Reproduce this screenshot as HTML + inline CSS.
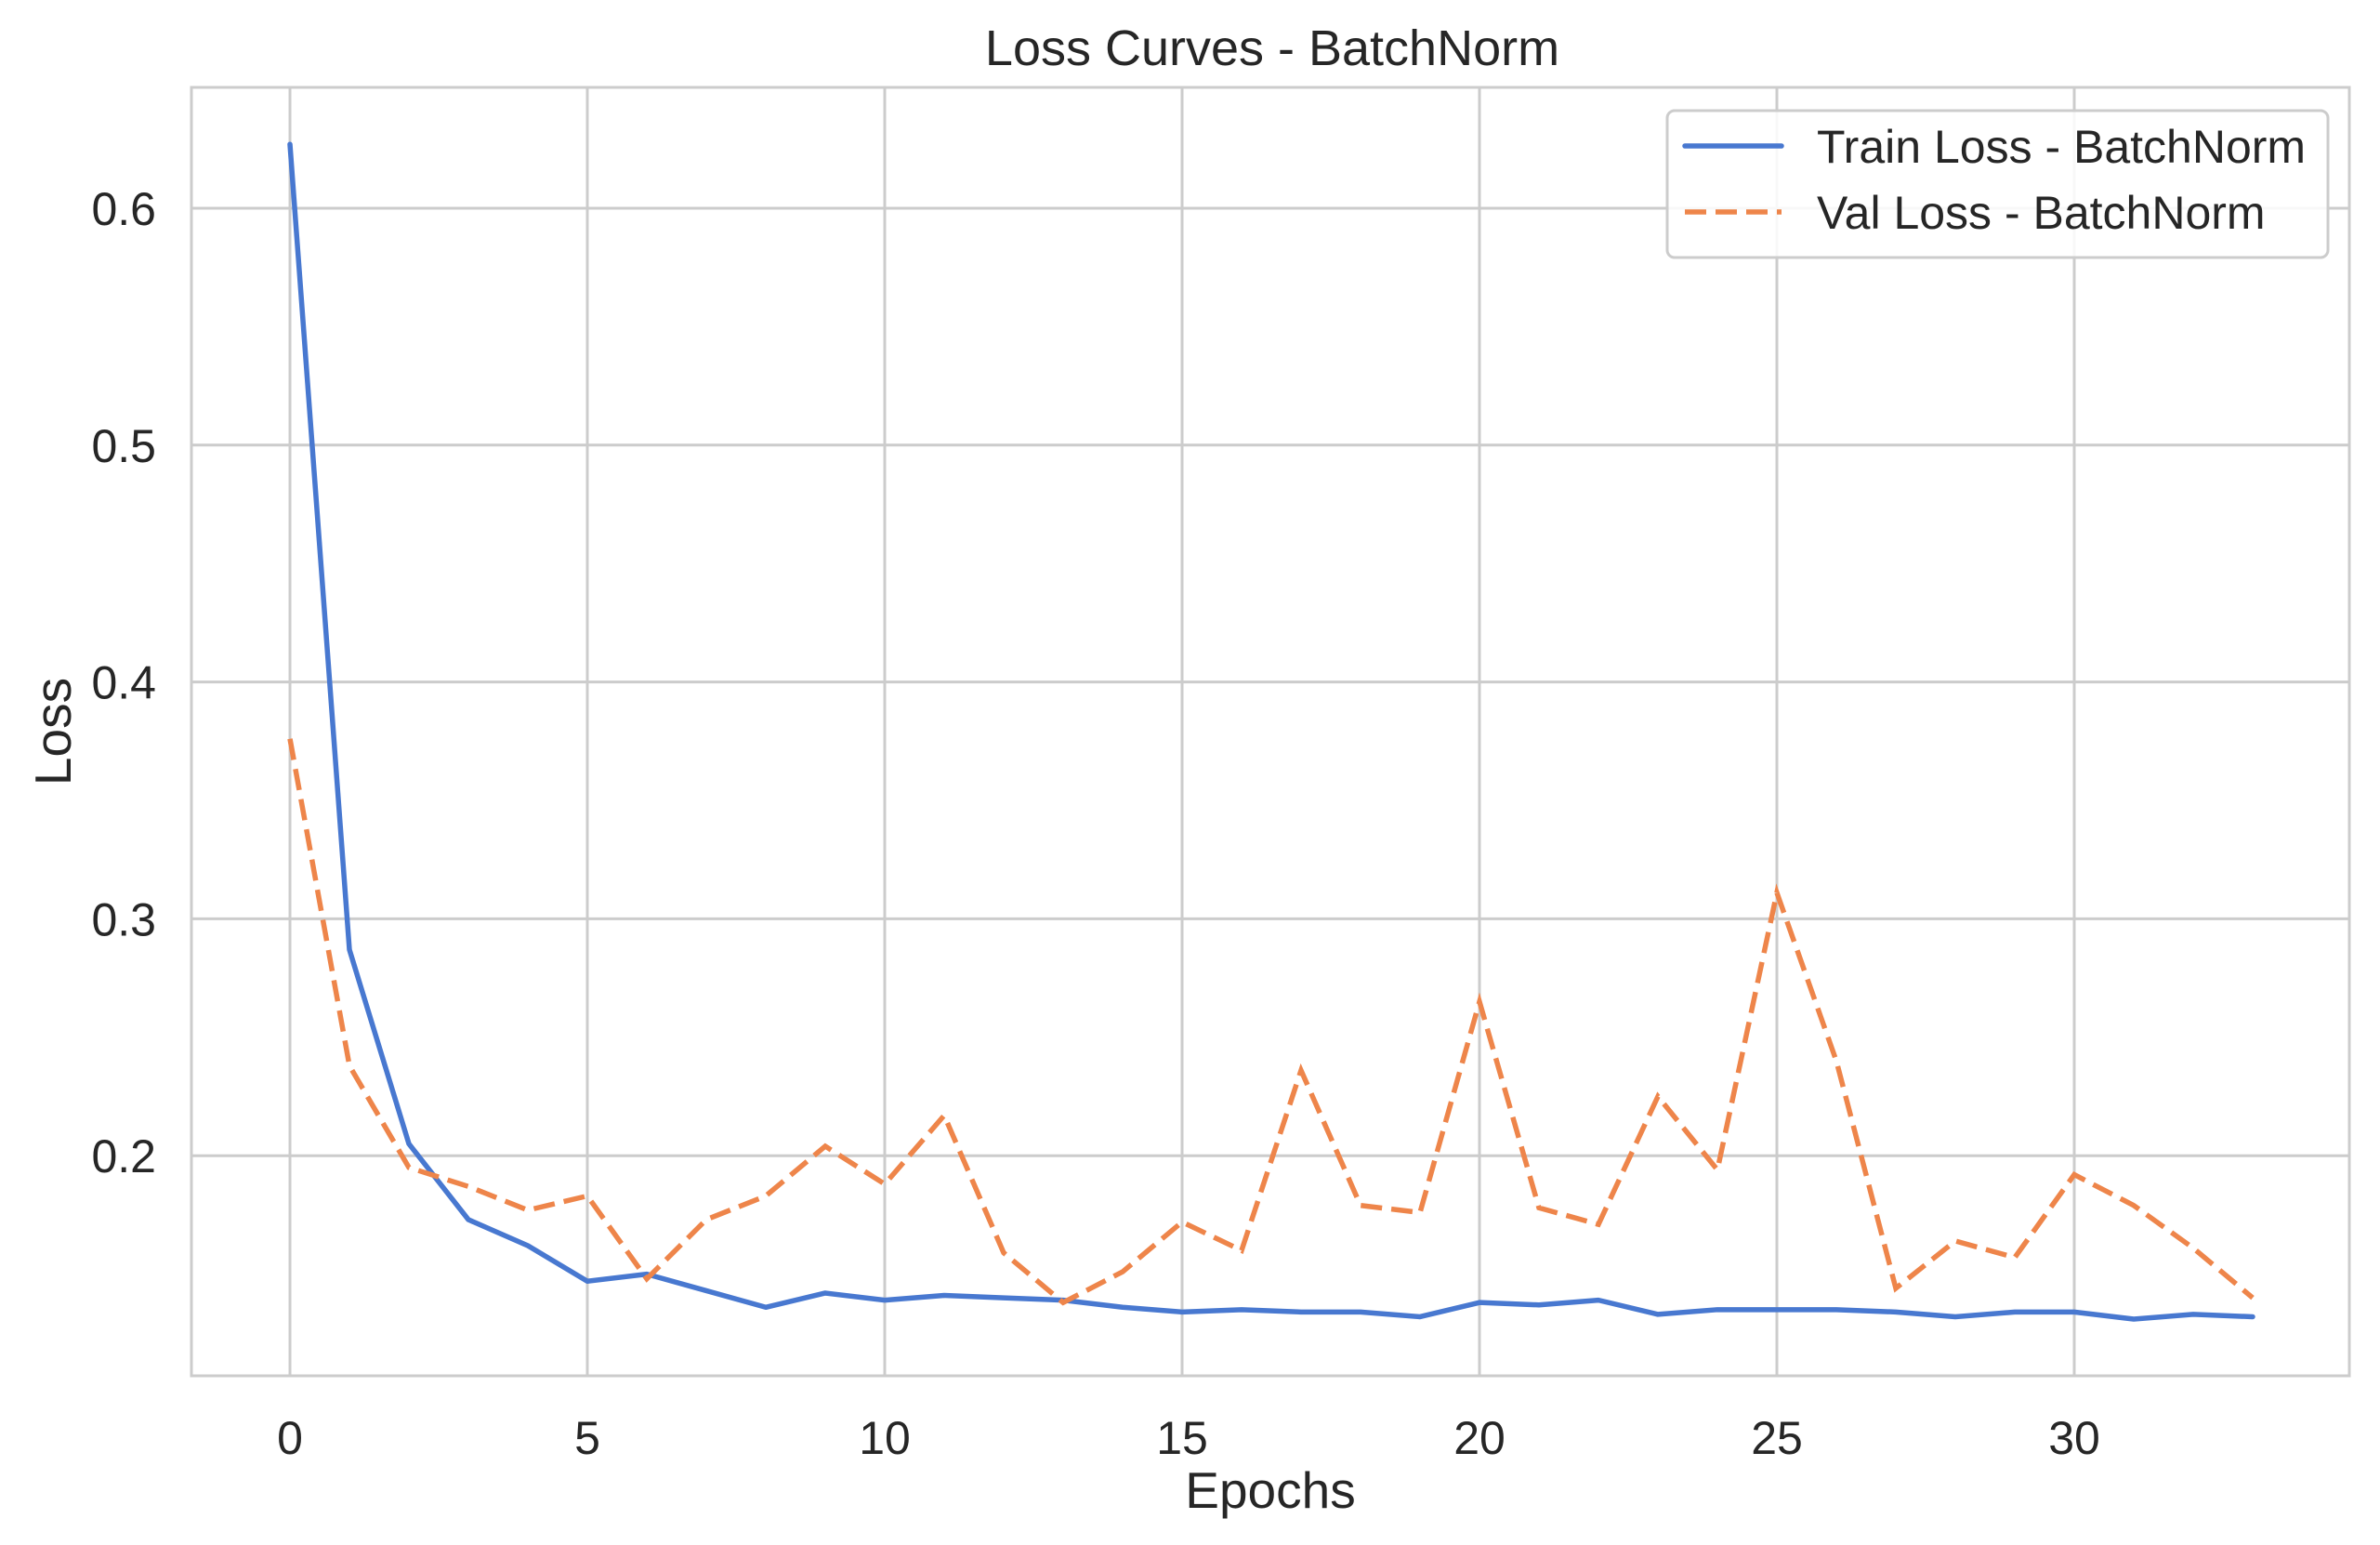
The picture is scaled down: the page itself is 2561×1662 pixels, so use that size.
<!DOCTYPE html>
<html><head><meta charset="utf-8"><style>
html,body{margin:0;padding:0;background:#fff;}
svg{display:block;font-family:"Liberation Sans",Arial,sans-serif;}
</style></head><body>
<svg id="chart" width="2561" height="1662" viewBox="0 0 2561 1662">
<g id="grid"></g>
<g id="ticks"></g>
<g id="series"></g>
<rect x="206" y="94" width="2322" height="1386" fill="none" stroke="#cccccc" stroke-width="3"/>
<text x="1369" y="70" font-size="54" fill="#262626" text-anchor="middle">Loss Curves - BatchNorm</text>
<text x="1367" y="1622" font-size="55" fill="#262626" text-anchor="middle">Epochs</text>
<text x="0" y="0" font-size="55" fill="#262626" text-anchor="middle" transform="translate(76,787) rotate(-90)">Loss</text>
<g>
<rect x="1794" y="119" width="711" height="158" rx="8" fill="#ffffff" fill-opacity="0.85" stroke="#cccccc" stroke-width="3"/>
<line x1="1813" y1="157" x2="1917" y2="157" stroke="#4878d0" stroke-width="5.5" stroke-linecap="round"/>
<text x="1955" y="175" font-size="50" fill="#262626">Train Loss - BatchNorm</text>
<line x1="1813" y1="228" x2="1917" y2="228" stroke="#ee854a" stroke-width="5.5" stroke-dasharray="23,10"/>
<text x="1955" y="246" font-size="50" fill="#262626">Val Loss - BatchNorm</text>
</g>
</svg>
<script>
const epochs = [0,1,2,3,4,5,6,7,8,9,10,11,12,13,14,15,16,17,18,19,20,21,22,23,24,25,26,27,28,29,30,31,32,33];
const trainLoss = [0.627,0.287,0.205,0.173,0.162,0.147,0.150,0.143,0.136,0.142,0.139,0.141,0.140,0.139,0.136,0.134,0.135,0.134,0.134,0.132,0.138,0.137,0.139,0.133,0.135,0.135,0.135,0.134,0.132,0.134,0.134,0.131,0.133,0.132];
const valLoss = [0.376,0.238,0.195,0.187,0.177,0.183,0.148,0.173,0.183,0.204,0.188,0.217,0.159,0.138,0.151,0.172,0.160,0.236,0.179,0.176,0.265,0.178,0.171,0.225,0.194,0.311,0.240,0.144,0.164,0.157,0.192,0.179,0.161,0.140];
const xTicks = [0,5,10,15,20,25,30];
const yTicks = [0.2,0.3,0.4,0.5,0.6];
const yTickLabels = ["0.2","0.3","0.4","0.5","0.6"];

const NS = "http://www.w3.org/2000/svg";
function xs(v){ return 312 + v*64.0; }
function ys(v){ return 224 + (0.6 - v)*2548; }
const grid = document.getElementById('grid');
const ticks = document.getElementById('ticks');
const series = document.getElementById('series');
function mk(tag, attrs, parent){ const e=document.createElementNS(NS,tag); for(const k in attrs) e.setAttribute(k,attrs[k]); parent.appendChild(e); return e; }

xTicks.forEach(t=>{
  const l = mk('line',{x1:xs(t),x2:xs(t),y1:94,y2:1480,stroke:'#cccccc','stroke-width':3},grid);
  
  
  const tx = mk('text',{x:xs(t),y:1564,'font-size':50,fill:'#262626','text-anchor':'middle'},ticks);
  tx.textContent = String(t);
  
  
});
yTicks.forEach((t,i)=>{
  const l = mk('line',{x1:206,x2:2528,y1:ys(t),y2:ys(t),stroke:'#cccccc','stroke-width':3},grid);
  
  
  const tx = mk('text',{x:168,y:ys(t)+18,'font-size':50,fill:'#262626','text-anchor':'end'},ticks);
  tx.textContent = yTickLabels[i];
  
  
});
function pts(arr){ return arr.map((v,i)=>xs(epochs[i])+','+ys(v)).join(' '); }
const tl = mk('polyline',{points:pts(trainLoss),fill:'none',stroke:'#4878d0','stroke-width':5.5,'stroke-linejoin':'round','stroke-linecap':'round'},series);


const vl = mk('polyline',{points:pts(valLoss),fill:'none',stroke:'#ee854a','stroke-width':5.5,'stroke-dasharray':'23,10'},series);


</script>
</body></html>
